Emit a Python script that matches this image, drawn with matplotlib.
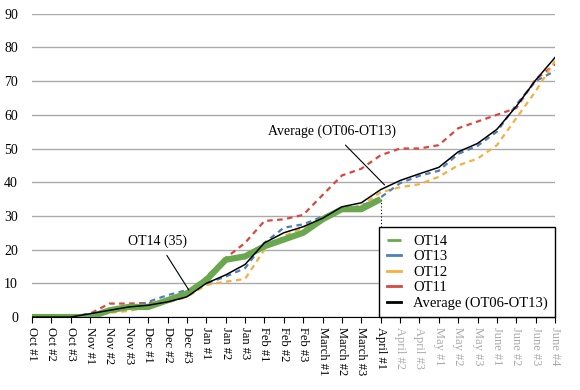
import numpy as np
import matplotlib
matplotlib.use("Agg")
import matplotlib.pyplot as plt

plt.rcParams['font.family'] = ['Liberation Serif', 'DejaVu Serif']

labels = ["Oct #1", "Oct #2", "Oct #3", "Nov #1", "Nov #2", "Nov #3",
          "Dec #1", "Dec #2", "Dec #3", "Jan #1", "Jan #2", "Jan #3",
          "Feb #1", "Feb #2", "Feb #3", "March #1", "March #2", "March #3",
          "April #1", "April #2", "April #3", "May #1", "May #2", "May #3",
          "June #1", "June #2", "June #3", "June #4"]

ot14 = [0, 0, 0, 0, 2, 3, 3, 5, 7, 11, 17, 18, 21, 23, 25, 29, 32, 32, 35]
ot13 = [0, 0, 0, 1, 2, 2.5, 4.5, 6.5, 8, 10, 12, 14.5, 22, 26.5, 27.5, 29.8,
        32, 33, 35.5, 39.7, 41.9, 43.4, 48.4, 50.8, 55, 63, 70, 73]
ot12 = [0, 0, 0, 0, 1.3, 1.8, 3, 4.5, 6, 9.5, 10.5, 11.3, 20, 24, 26.5, 29,
        32, 33, 37, 38.5, 39.4, 41.6, 45, 47, 51, 59, 67, 76]
ot11 = [0, 0, 0, 1, 4, 4, 4.2, 4.4, 6, 12, 17.5, 22, 28.5, 29, 30.3, 36.2,
        42, 44, 48, 50, 50, 51, 56, 58, 60, 62, 70.5, 75]
avg = [0, 0, 0, 1, 2, 3, 3.5, 4.5, 6, 10, 12.5, 15.6, 22, 25, 26.8, 29.3,
       32.7, 33.9, 37.8, 40.5, 42.5, 44.4, 49, 51.5, 55.7, 62.5, 70.3, 77]

x = np.arange(len(labels))

fig = plt.figure(figsize=(5.8, 3.9), dpi=100)
ax = fig.add_axes([0.055, 0.187, 0.902, 0.778])

dash = (0, (2.5, 2))
ax.plot(x[:len(ot11)], ot11, color='#d9473f', lw=1.6, ls=dash, label='OT11', zorder=2)
ax.plot(x[:len(ot12)], ot12, color='#f5b041', lw=1.6, ls=dash, label='OT12', zorder=2)
ax.plot(x[:len(ot13)], ot13, color='#4f7fb5', lw=1.6, ls=dash, label='OT13', zorder=2)
ax.plot(x[:len(ot14)], ot14, color='#6aa84f', lw=4.5, label='OT14', zorder=3,
        solid_capstyle='butt')
ax.plot(x[:len(avg)], avg, color='black', lw=1.1, label='Average (OT06-OT13)', zorder=4)

# dotted marker from last OT14 point down to axis
ax.plot([len(ot14) - 1, len(ot14) - 1], [0, ot14[-1]], color='black', lw=0.8,
        ls=(0, (1, 2)), zorder=1)

ax.annotate("OT14 (35)", xy=(8.1, 8), xytext=(6.5, 22.5), ha='center', va='center',
            fontsize=10, arrowprops=dict(arrowstyle='-', color='black', lw=0.8,
                                         shrinkA=4, shrinkB=0))
ax.annotate("Average (OT06-OT13)", xy=(18.2, 39.2), xytext=(15.5, 55), ha='center',
            va='center', fontsize=10, arrowprops=dict(arrowstyle='-', color='black',
                                                      lw=0.8, shrinkA=4, shrinkB=0))

ax.set_xlim(0, len(labels) - 1)
ax.set_ylim(0, 90)
ax.set_yticks(range(0, 91, 10))
ax.yaxis.grid(True, color='#aaaaaa', lw=1)
ax.set_axisbelow(True)
ax.tick_params(axis='y', length=0, labelsize=10, pad=10)
ax.set_xticks(x)
ax.set_xticklabels(labels, rotation=270, fontsize=9)
ax.tick_params(axis='x', length=4, direction='out', color='black', pad=3)
for i, t in enumerate(ax.get_xticklabels()):
    if i > len(ot14) - 1:
        t.set_color('#aaaaaa')
for s in ['left', 'right', 'top']:
    ax.spines[s].set_visible(False)
ax.spines['bottom'].set_color('black')

handles, lbls = ax.get_legend_handles_labels()
order = [3, 2, 1, 0, 4]
leg = ax.legend([handles[i] for i in order], [lbls[i] for i in order],
                loc='lower right', fontsize=10.5, frameon=True, fancybox=False,
                edgecolor='black', framealpha=1, handlelength=1.0,
                borderaxespad=0, labelspacing=0.15, borderpad=0.5)
leg.get_frame().set_linewidth(1.0)
for h in leg.get_lines():
    h.set_linestyle('-')
    h.set_linewidth(2)

fig.savefig("out.png", dpi=100)
